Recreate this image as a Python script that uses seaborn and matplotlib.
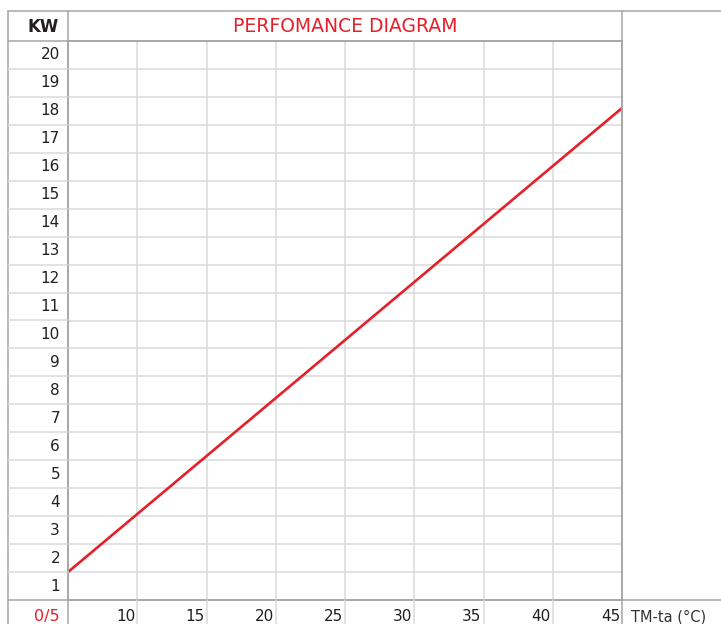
import matplotlib
matplotlib.use("Agg")
import matplotlib.pyplot as plt
from matplotlib.lines import Line2D
from matplotlib.transforms import offset_copy, blended_transform_factory
import seaborn as sns
import pandas as pd

# Data
temp_diff = [5, 45]          # TM-ta (°C)
power_kw = [1.0, 17.6]       # KW
x_ticks = [10, 15, 20, 25, 30, 35, 40, 45]
y_rows = list(range(1, 21))

RED = "#e4202a"
DARK = "#231f20"
GRID = "#dadada"
BORDER = "#a5a5a5"

sns.set_theme(style="white")
plt.rcParams["font.family"] = ["DejaVu Sans"]

W, H = 721, 624
fig = plt.figure(figsize=(W / 100, H / 100), dpi=100)

# plot area in pixel coordinates (left, top, right, bottom)
L, T, R, B = 68, 41, 622, 600
ax = fig.add_axes([L / W, 1 - B / H, (R - L) / W, (B - T) / H])

df = pd.DataFrame({"dt": temp_diff, "kw": power_kw})
sns.lineplot(data=df, x="dt", y="kw", color=RED, linewidth=1.9, ax=ax)

ax.set_xlim(5, 45)
ax.set_ylim(0, 20)
ax.set_xticks(x_ticks[:-1])
ax.set_yticks(y_rows[:-1])
ax.tick_params(length=0, labelbottom=False, labelleft=False)
ax.grid(True, color=GRID, linewidth=1.1)
ax.set_xlabel("")
ax.set_ylabel("")
for s in ax.spines.values():
    s.set_color(BORDER)
    s.set_linewidth(1.1)


def fx(px):
    return px / W


def fy(py):
    return 1 - py / H


def hline(y, x0, x1, color=BORDER):
    fig.add_artist(Line2D([fx(x0), fx(x1)], [fy(y), fy(y)], color=color,
                          linewidth=1.1, transform=fig.transFigure))


def vline(x, y0, y1, color=BORDER):
    fig.add_artist(Line2D([fx(x), fx(x)], [fy(y0), fy(y1)], color=color,
                          linewidth=1.1, transform=fig.transFigure))


# outer table frame
hline(11, 8, W)
hline(T, 8, R)
hline(B, 8, W)
vline(8, 11, H)
vline(L, 11, H)
vline(R, 11, H)

# row lines in the label column and column lines in the bottom row
for k in y_rows[:-1]:
    yy = ax.transData.transform((5, k))[1]
    hline(H - yy, 8, L, GRID)
for v in x_ticks[:-1]:
    xx = ax.transData.transform((v, 0))[0]
    vline(xx, B, H, GRID)

# y labels, centred in their rows
ylab_tr = offset_copy(blended_transform_factory(ax.transAxes, ax.transData),
                      fig=fig, x=-8, y=0, units="dots")
for k in y_rows:
    ax.text(0, k - 0.5, str(k), transform=ylab_tr, ha="right", va="center",
            fontsize=11, color=DARK)

# x labels in the bottom row
xlab_tr = offset_copy(blended_transform_factory(ax.transData, ax.transAxes),
                      fig=fig, x=-2, y=-9, units="dots")
for v in x_ticks:
    ax.text(v, 0, str(v), transform=xlab_tr, ha="right", va="top",
            fontsize=11, color=DARK)
ax.text(5, 0, "0/5", transform=offset_copy(xlab_tr, fig=fig, x=-6, y=0, units="dots"),
        ha="right", va="top", fontsize=11.5, color=RED)
ax.text(1, 0, "TM-ta (°C)",
        transform=offset_copy(ax.transAxes, fig=fig, x=9, y=-9, units="dots"),
        ha="left", va="top", fontsize=10.5, color="#333333")

# header row
ax.text(0, 1, "KW", transform=offset_copy(ax.transAxes, fig=fig, x=-9, y=14, units="dots"),
        ha="right", va="center", fontsize=12, fontweight="semibold", color=DARK)
ax.text(0.5, 1, "PERFOMANCE DIAGRAM",
        transform=offset_copy(ax.transAxes, fig=fig, x=0, y=14, units="dots"),
        ha="center", va="center", fontsize=13.5, fontweight="medium", color=RED)

fig.savefig("out.png", dpi=100)
